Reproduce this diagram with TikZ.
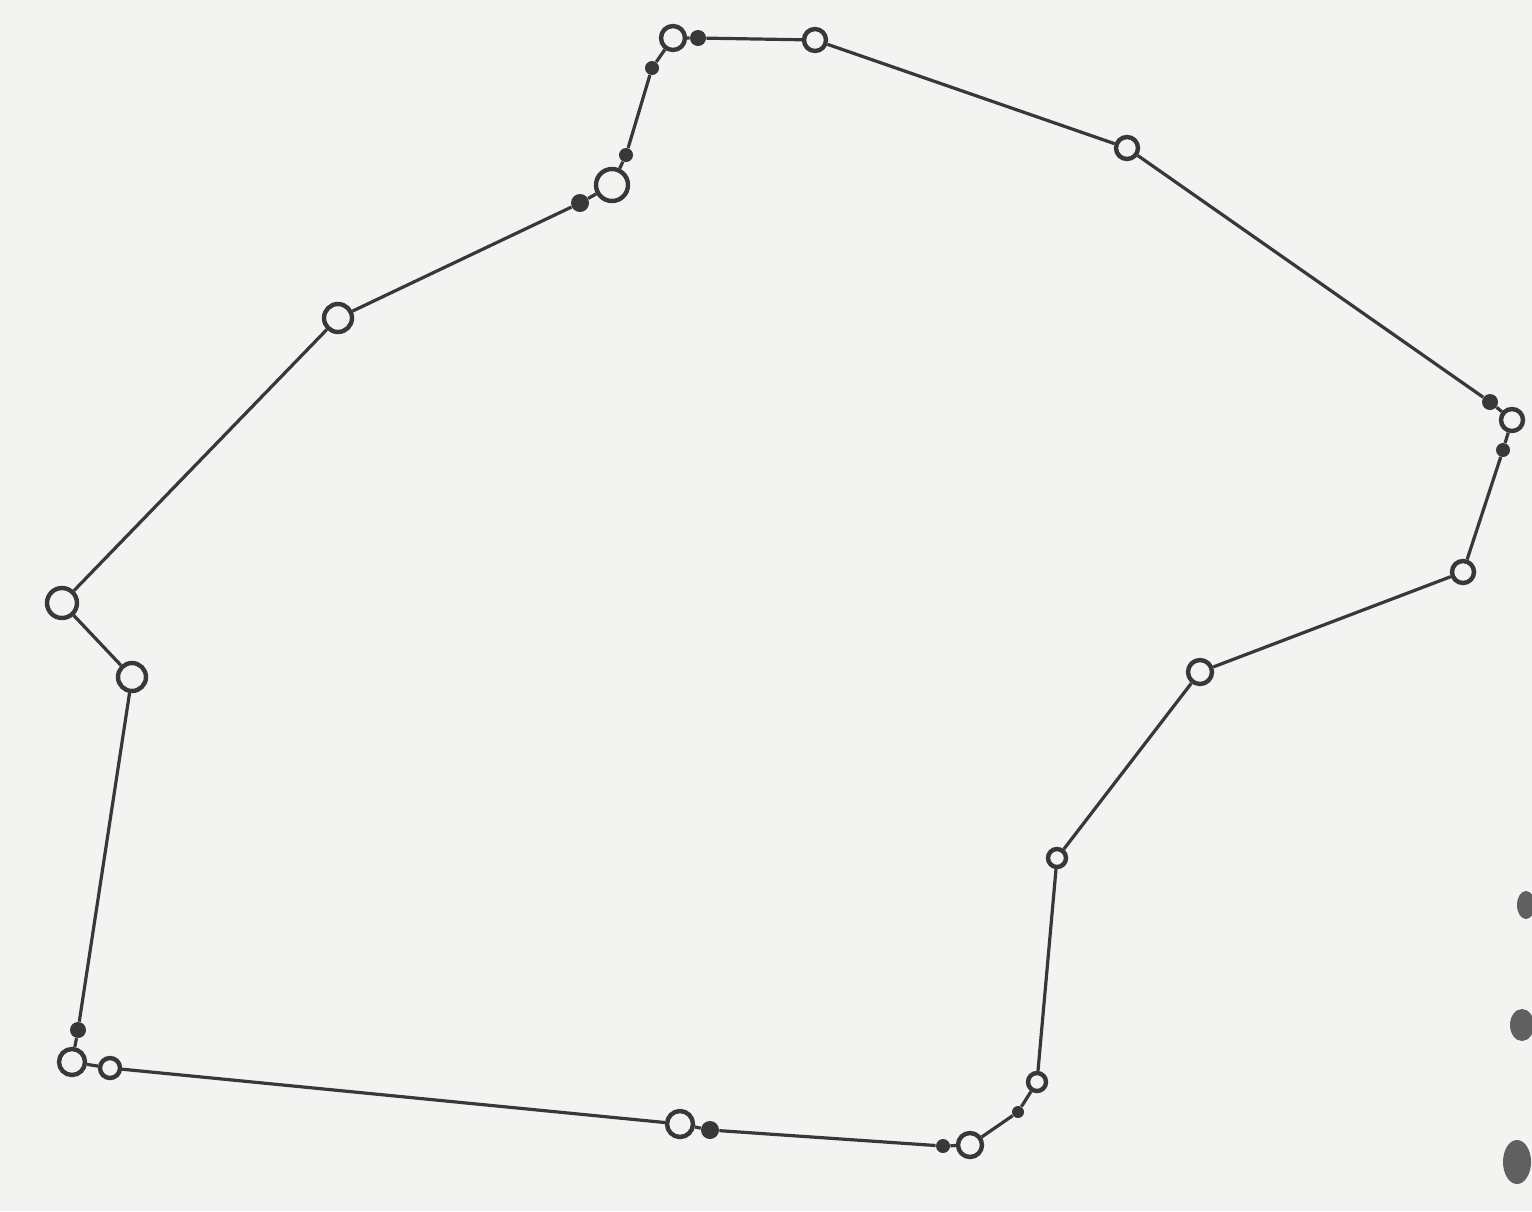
\documentclass[tikz,border=0pt]{standalone}
\begin{document}
\begin{tikzpicture}[x=0.5pt,y=-0.5pt,
  ring/.style={circle,draw=ink,line width=2.2pt,fill=paper,inner sep=0pt,minimum size=#1},
  ring/.default=12pt,
  knob/.style={circle,fill=ink,inner sep=0pt,minimum size=#1},
  knob/.default=6pt,
  link/.style={draw=ink,line width=1.6pt}]
\definecolor{paper}{HTML}{F3F3F1}
\definecolor{ink}{HTML}{38383A}
\fill[paper] (0,0) rectangle (1532,1211);
\useasboundingbox (0,0) rectangle (1532,1211);
% rings and knobs
\node[ring=12pt] (A) at (673,38) {};
\node[knob=8pt] (B) at (698,38) {};
\node[ring=11pt] (C) at (815,40) {};
\node[ring=11pt] (D) at (1127,148) {};
\node[knob=8pt] (E1) at (1490,402) {};
\node[ring=11pt] (E) at (1512,420) {};
\node[knob=7pt] (E2) at (1503,450) {};
\node[ring=11pt] (F) at (1463,572) {};
\node[ring=12pt] (G) at (1200,672) {};
\node[ring=9pt] (H) at (1057,858) {};
\node[ring=9pt] (I) at (1037,1082) {};
\node[knob=6pt] (I2) at (1018,1112) {};
\node[ring=12pt] (J) at (970,1145) {};
\node[knob=7pt] (J2) at (943,1146) {};
\node[knob=9pt] (K) at (710,1130) {};
\node[ring=13pt] (L) at (680,1124) {};
\node[ring=10pt] (M) at (110,1068) {};
\node[ring=13pt] (N) at (72,1062) {};
\node[knob=8pt] (N2) at (78,1030) {};
\node[ring=14pt] (O) at (132,677) {};
\node[ring=15pt] (P) at (62,603) {};
\node[ring=14pt] (Q) at (338,318) {};
\node[knob=9pt] (R2) at (580,203) {};
\node[ring=16pt] (R) at (612,185) {};
\node[knob=7pt] (S1) at (626,155) {};
\node[knob=7pt] (S2) at (652,68) {};
% links
\path[link] (A) -- (B) -- (C) -- (D) -- (E1) -- (E) -- (E2) -- (F) -- (G) -- (H) -- (I) -- (I2) -- (J) -- (J2) -- (K) -- (L) -- (M) -- (N) -- (N2) -- (O) -- (P) -- (Q) -- (R2) -- (R) -- (S1) -- (S2) -- (A);
% stray marks at the right edge
\fill[ink!80] (1526,905) ellipse (9 and 14);
\fill[ink!80] (1522,1025) ellipse (12 and 16);
\fill[ink!80] (1517,1162) ellipse (14 and 22);
\end{tikzpicture}
\end{document}
